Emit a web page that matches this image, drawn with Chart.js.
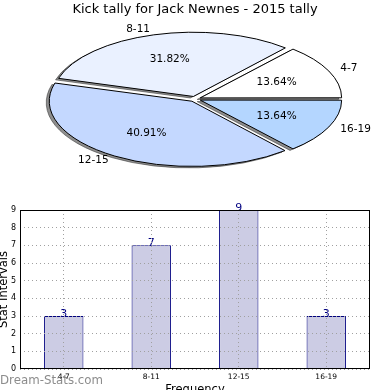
<!DOCTYPE html>
<html>
<head>
<meta charset="utf-8">
<script src="https://cdn.jsdelivr.net/npm/chart.js@4/dist/chart.umd.min.js"></script>
<style>
  html, body { margin: 0; padding: 0; background: #fff; }
  #wrap { position: relative; width: 390px; height: 390px; overflow: hidden; }
  #pie { position: absolute; left: 0; top: 0; }
  #bar { position: absolute; left: 0; top: 200px; }
</style>
</head>
<body>
<div id="wrap">
  <canvas id="pie" width="390" height="200"></canvas>
  <canvas id="bar" width="390" height="190"></canvas>
</div>
<script>
// ---- data ----
const titleText = 'Kick tally for Jack Newnes - 2015 tally';
const categories = ['4-7', '8-11', '12-15', '16-19'];
const tally = [3, 7, 9, 3];
const pieColors = ['#ffffff', '#eaf1ff', '#c4d8ff', '#b4d6ff'];
const yTicks = [0, 1, 2, 3, 4, 5, 6, 7, 8, 9];
const xTitle = 'Frequency';
const yTitle = 'Stat Intervals';
const watermark = 'Dream-Stats.com';

Chart.defaults.font.family = 'DejaVu Sans';
Chart.defaults.color = '#000';

const SQUASH = 64 / 140;
const total = tally.reduce((a, b) => a + b, 0);

// Chart.js draws clockwise; matplotlib counter-clockwise from east -> reverse order
const pieLabels = categories.slice().reverse();
const pieData = tally.slice().reverse();
const pieBg = pieColors.slice().reverse();

const ellipsePlugin = {
  id: 'ellipse',
  beforeDatasetsDraw(chart) {
    const ctx = chart.ctx;
    const meta = chart.getDatasetMeta(0);
    const a0 = meta.data[0];
    const cx = a0.x, cy = a0.y;
    const dpr = chart.currentDevicePixelRatio || 1;
    ctx.save();
    ctx.translate(cx, cy);
    ctx.scale(1, SQUASH);
    ctx.translate(-cx, -cy);
    const orig = CanvasRenderingContext2D.prototype.stroke;
    ctx.stroke = function (...args) {
      this.save();
      this.setTransform(dpr, 0, 0, dpr, 0, 0);
      orig.apply(this, args);
      this.restore();
    };
    // shadow pass (all shadows beneath all wedges)
    meta.data.forEach(arc => {
      ctx.save();
      ctx.translate(-1000, 0);
      ctx.shadowColor = 'rgba(50,50,50,0.55)';
      ctx.shadowBlur = 0;
      ctx.shadowOffsetX = (1000 - 3) * dpr;
      ctx.shadowOffsetY = 1.5 * dpr;
      arc.draw(ctx);
      ctx.restore();
    });
  },
  afterDatasetsDraw(chart) {
    delete chart.ctx.stroke;
    chart.ctx.restore();
  },
  afterDraw(chart) {
    const ctx = chart.ctx;
    const meta = chart.getDatasetMeta(0);
    ctx.save();
    ctx.fillStyle = '#000';
    ctx.font = '10.5px "DejaVu Sans"';
    ctx.textBaseline = 'middle';
    meta.data.forEach((arc, i) => {
      const mid = (arc.startAngle + arc.endAngle) / 2;
      const r = arc.outerRadius;
      const shift = (arc.options.offset || 0) / 4;
      const c = Math.cos(mid), s = Math.sin(mid);
      const lx = arc.x + c * (1.1 * r + shift);
      const ly = arc.y + s * (1.1 * r + shift) * SQUASH;
      ctx.textAlign = c >= 0 ? 'left' : 'right';
      ctx.fillText(pieLabels[i], lx, ly);
      const px = arc.x + c * (0.6 * r + shift);
      const py = arc.y + s * (0.6 * r + shift) * SQUASH;
      ctx.textAlign = 'center';
      ctx.fillText((pieData[i] / total * 100).toFixed(2) + '%', px, py);
    });
    ctx.restore();
  }
};

new Chart(document.getElementById('pie'), {
  type: 'pie',
  data: {
    labels: pieLabels,
    datasets: [{
      data: pieData,
      backgroundColor: pieBg,
      borderColor: '#000',
      borderWidth: 1,
      offset: 23,
      hoverOffset: 23,
      clip: false
    }]
  },
  options: {
    responsive: false,
    animation: false,
    radius: 140,
    rotation: 90,
    layout: { padding: { top: 0, bottom: 19.6, left: 0, right: 0 } },
    plugins: {
      legend: { display: false },
      tooltip: { enabled: false },
      title: {
        display: true,
        text: titleText,
        color: '#000',
        font: { size: 13, weight: 'normal', family: 'DejaVu Sans' },
        padding: { top: 2, bottom: 0 }
      }
    },
    events: []
  },
  plugins: [ellipsePlugin]
});

// ---- bar chart ----
const barPlugin = {
  id: 'barExtras',
  afterDatasetsDraw(chart) {
    const ctx = chart.ctx;
    const meta = chart.getDatasetMeta(0);
    ctx.save();
    ctx.fillStyle = '#000080';
    ctx.font = '11px "DejaVu Sans"';
    ctx.textAlign = 'center';
    ctx.textBaseline = 'alphabetic';
    meta.data.forEach((bar, i) => {
      ctx.fillText(String(tally[i]), bar.x, bar.y + 0.5);
    });
    ctx.restore();
  },
  afterDraw(chart) {
    const ctx = chart.ctx;
    const a = chart.chartArea;
    ctx.save();
    ctx.strokeStyle = '#000';
    ctx.lineWidth = 1;
    ctx.setLineDash([]);
    const l = Math.round(a.left) + 0.5, t = Math.round(a.top) + 0.5;
    const r = Math.round(a.right) - 0.5, b = Math.round(a.bottom) - 0.5;
    ctx.strokeRect(l, t, r - l, b - t);
    // watermark
    ctx.fillStyle = 'rgba(120,120,120,0.85)';
    ctx.font = '11.8px "DejaVu Sans"';
    ctx.textAlign = 'left';
    ctx.textBaseline = 'middle';
    ctx.fillText(watermark, 0, chart.height - 9);
    ctx.restore();
  }
};

new Chart(document.getElementById('bar'), {
  type: 'bar',
  data: {
    labels: categories,
    datasets: [{
      data: tally,
      backgroundColor: '#ccccE4',
      borderColor: '#000080',
      borderWidth: 1,
      barPercentage: 0.45,
      categoryPercentage: 1
    }]
  },
  options: {
    responsive: false,
    animation: false,
    events: [],
    layout: { padding: { top: 10, right: 20, left: 0, bottom: 0 } },
    plugins: { legend: { display: false }, tooltip: { enabled: false } },
    scales: {
      x: {
        offset: true,
        grid: { offset: false, z: 1, color: '#a0a0a0', lineWidth: 1, drawTicks: false },
        border: { display: true, color: 'rgba(0,0,0,0)', width: 0, dash: [1, 3] },
        ticks: { font: { size: 7.5 }, padding: 4, maxRotation: 0, color: '#000' },
        title: { display: true, text: xTitle, font: { size: 11.5 }, padding: { top: 0, bottom: -7 }, color: '#000' },
        afterFit(scale) { scale.height = 21; }
      },
      y: {
        min: 0,
        max: 9,
        afterBuildTicks(scale) { scale.ticks = yTicks.map(v => ({ value: v })); },
        grid: { z: 1, color: '#a0a0a0', lineWidth: 1, drawTicks: false },
        border: { display: true, color: 'rgba(0,0,0,0)', width: 0, dash: [1, 3] },
        ticks: { font: { size: 8 }, padding: 4, color: '#000' },
        title: { display: true, text: yTitle, font: { size: 11.5 }, padding: { top: -3, bottom: 0 }, color: '#000' },
        afterFit(scale) { scale.width = 20; }
      }
    }
  },
  plugins: [barPlugin]
});
</script>
</body>
</html>
